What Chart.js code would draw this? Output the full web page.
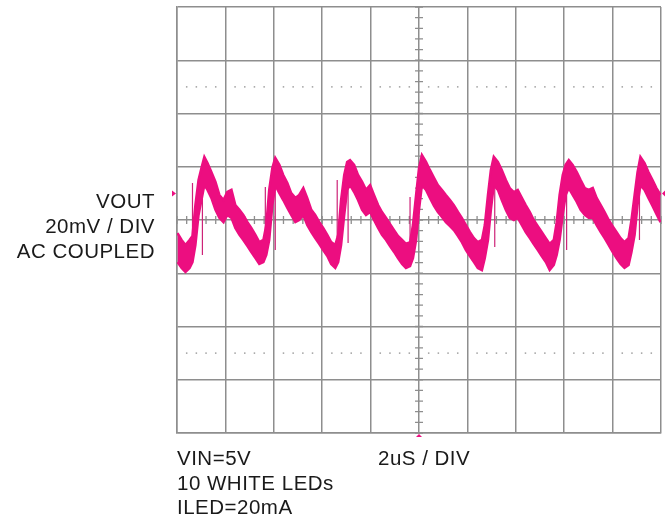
<!DOCTYPE html>
<html>
<head>
    <title>VOUT ripple</title>
    <script src="https://cdn.jsdelivr.net/npm/chart.js"></script>
    <style>
        body { margin: 0; background: #fff; }
        #wrap { position: relative; width: 666px; height: 518px; }
        .lbl { position: absolute; font-family: "Liberation Sans", Arial, sans-serif; font-size: 20.5px; color: #1a1a1a; letter-spacing: 0.5px; white-space: nowrap; }
    </style>
</head>
<body>
<div id="wrap">
    <canvas id="scopeChart" width="666" height="518"></canvas>
    <div class="lbl" style="right:511px; top:188px; line-height:25px; text-align:right;">VOUT<br>20mV / DIV<br>AC COUPLED</div>
    <div class="lbl" style="left:177px; top:446px; line-height:24.5px;">VIN=5V<br>10 WHITE LEDs<br>ILED=20mA</div>
    <div class="lbl" style="left:378px; top:446px; line-height:24.5px;">2uS / DIV</div>
</div>

<script>
    // time in us (2us/div), voltage in mV (20mV/div)
    var timeUs = [
        -9.98, -9.81, -9.65, -9.48, -9.36, -9.24, -9.11, -8.99, -8.87, -8.74, -8.58, -8.41, -8.25, -8.08, -7.92, -7.75, -7.59, -7.42, -7.26, -7.09, -6.93, -6.76, -6.60, -6.43,
        -6.31, -6.19, -6.06, -5.94, -5.77, -5.61, -5.44, -5.28, -5.11, -4.95, -4.78, -4.62, -4.45, -4.29, -4.12, -3.96, -3.79, -3.63, -3.46,
        -3.34, -3.22, -3.09, -2.97, -2.85, -2.68, -2.52, -2.35, -2.19, -2.02, -1.86, -1.69, -1.53, -1.36, -1.20, -1.03, -0.87, -0.70, -0.54, -0.37,
        -0.25, -0.12, 0, 0.12, 0.29, 0.45, 0.62, 0.78, 0.95, 1.11, 1.28, 1.44, 1.61, 1.77, 1.94, 2.10, 2.27, 2.43, 2.60,
        2.72, 2.85, 2.97, 3.09, 3.26, 3.42, 3.59, 3.75, 3.92, 4.08, 4.25, 4.41, 4.58, 4.74, 4.91, 5.07, 5.24, 5.40, 5.57,
        5.69, 5.81, 5.94, 6.06, 6.19, 6.35, 6.52, 6.68, 6.85, 7.01, 7.18, 7.34, 7.51, 7.67, 7.84, 8.00, 8.16, 8.33, 8.49, 8.66,
        8.78, 8.91, 9.03, 9.15, 9.32, 9.48, 9.65, 9.81, 9.98
    ];
    // top edge of the noisy trace
    var upperMv = [
        -4.9, -7.5, -9.4, -7.5, -6.0, 5.6, 15.0, 19.5, 23.7, 21.4, 18.0, 14.3, 9.4, 7.5, 10.5, 11.3, 5.6, 3.8, 1.9, -0.8, -3.0, -5.6, -8.3, -7.5,
        -1.9, 11.3, 19.5, 23.3, 20.7, 16.9, 13.9, 10.1, 8.3, 9.4, 12.0, 8.3, 3.8, 1.9, -0.8, -3.0, -5.6, -8.3, -9.4,
        -5.6, 7.5, 16.9, 21.8, 22.5, 20.7, 16.9, 14.3, 11.3, 13.1, 9.4, 5.6, 3.0, 0.8, -1.5, -3.8, -6.0, -7.5, -9.0, -8.3,
        -1.9, 9.4, 19.5, 24.4, 21.8, 18.8, 15.8, 13.1, 11.3, 9.4, 7.5, 5.6, 3.0, 0.8, -1.9, -4.5, -6.8, -8.3, -7.5,
        -1.9, 9.4, 18.8, 23.7, 21.8, 18.8, 15.0, 12.0, 10.5, 11.3, 8.3, 5.6, 3.0, 0, -2.3, -4.5, -6.8, -9.0, -7.5,
        -0.8, 9.4, 16.9, 20.7, 22.5, 20.7, 18.0, 15.0, 12.0, 11.3, 12.0, 8.3, 5.6, 3.0, 0, -2.3, -4.5, -6.8, -8.3, -6.8,
        0, 9.4, 18.0, 23.7, 21.4, 18.0, 15.0, 12.0, 9.4
    ];
    // bottom edge of the noisy trace
    var lowerMv = [
        -15.8, -18.0, -19.5, -18.0, -15.8, -9.4, 1.9, 7.5, 13.1, 11.3, 8.3, 3.8, 0.8, -0.8, 1.9, 0.8, -3.0, -5.6, -7.5, -9.8, -12.0, -14.3, -16.5, -15.8,
        -13.1, -7.5, 5.6, 13.1, 10.1, 7.5, 4.5, 1.9, -0.8, 0, 1.9, -1.9, -4.5, -6.8, -9.0, -11.3, -13.5, -16.5, -18.0,
        -15.8, -9.4, 1.9, 11.3, 13.1, 10.5, 7.5, 3.8, 1.9, 3.0, 0, -3.0, -5.6, -7.5, -9.8, -12.0, -14.3, -16.5, -18.0, -17.3,
        -14.3, -7.5, 3.8, 13.1, 11.3, 8.3, 5.3, 3.0, 1.1, -0.8, -2.3, -3.8, -6.0, -8.3, -11.3, -13.5, -15.8, -18.0, -18.8,
        -14.3, -7.5, 3.8, 13.1, 11.3, 7.5, 3.8, 0.8, 0, 0.8, -1.9, -4.5, -6.8, -9.0, -11.3, -13.5, -15.8, -18.8, -16.9,
        -13.1, -7.5, 1.9, 9.4, 12.0, 9.4, 6.8, 3.8, 1.9, 0.8, 0.8, -1.9, -4.5, -6.8, -9.4, -12.0, -14.3, -16.5, -18.0, -16.9,
        -12.0, -5.6, 5.6, 13.1, 11.3, 8.3, 5.3, 2.3, -0.8
    ];
    // thin switching spikes near each rising edge
    var spikeTimeUs = [-9.36, -8.95, -6.35, -5.94, -3.38, -2.93, -0.37, 3.13, 6.10, 9.11];
    var spikeTopMv = [13.9, 15.0, 12.4, 18.8, 15.0, 18.8, 8.6, 16.9, 15.0, 20.7];
    var spikeBottomMv = [-6.4, -13.1, -3.8, -11.3, -6.4, -8.6, -7.5, -10.1, -11.3, -7.5];

    var markerMv = 10;      // channel / trigger level arrows
    var dottedRowsMv = [50, -50];

    var traceColor = 'rgb(236, 14, 128)';
    var gridColor = '#8e8e8e';

    var upperPts = timeUs.map(function (t, i) { return { x: t, y: upperMv[i] }; });
    var lowerPts = timeUs.map(function (t, i) { return { x: t, y: lowerMv[i] }; });
    var spikePts = [];
    spikeTimeUs.forEach(function (t, i) {
        spikePts.push({ x: t, y: spikeTopMv[i] });
        spikePts.push({ x: t, y: spikeBottomMv[i] });
        spikePts.push({ x: t, y: null });
    });

    // centre crosshair ticks, dotted rows and the little level arrows
    var scopeDecor = {
        id: 'scopeDecor',
        beforeDatasetsDraw: function (chart) {
            var ctx = chart.ctx, x = chart.scales.x, y = chart.scales.y;
            var cx = x.getPixelForValue(0), cy = y.getPixelForValue(0);
            ctx.save();
            ctx.strokeStyle = gridColor;
            ctx.lineWidth = 1.3;
            ctx.beginPath();
            for (var v = -80; v <= 80; v += 4) {
                var py = y.getPixelForValue(v);
                ctx.moveTo(cx - 4, py); ctx.lineTo(cx + 4, py);
            }
            for (var t = -10; t <= 10.001; t += 0.4) {
                var px = x.getPixelForValue(t);
                ctx.moveTo(px, cy - 4); ctx.lineTo(px, cy + 4);
            }
            ctx.stroke();
            ctx.fillStyle = '#a0a0a0';
            dottedRowsMv.forEach(function (mv) {
                var py = y.getPixelForValue(mv);
                for (var k = 0; k < 50; k++) {
                    if (k % 5 === 0) continue;
                    var px = x.getPixelForValue(-10 + k * 0.4);
                    ctx.fillRect(px - 0.75, py - 0.75, 1.5, 1.5);
                }
            });
            ctx.restore();
        },
        afterDatasetsDraw: function (chart) {
            var ctx = chart.ctx, x = chart.scales.x, y = chart.scales.y, a = chart.chartArea;
            var my = y.getPixelForValue(markerMv), cx = x.getPixelForValue(0);
            ctx.save();
            ctx.fillStyle = traceColor;
            ctx.beginPath();
            ctx.moveTo(a.left - 5, my - 3); ctx.lineTo(a.left - 1, my); ctx.lineTo(a.left - 5, my + 3);
            ctx.closePath(); ctx.fill();
            ctx.beginPath();
            ctx.moveTo(cx - 3, a.bottom + 4); ctx.lineTo(cx, a.bottom + 1); ctx.lineTo(cx + 3, a.bottom + 4);
            ctx.closePath(); ctx.fill();
            ctx.beginPath();
            ctx.moveTo(a.right + 4, my - 3); ctx.lineTo(a.right + 1, my); ctx.lineTo(a.right + 4, my + 3);
            ctx.closePath(); ctx.fill();
            ctx.restore();
        }
    };

    var ctx = document.getElementById('scopeChart').getContext('2d');
    var scopeChart = new Chart(ctx, {
        type: 'line',
        data: {
            datasets: [{
                label: 'VOUT upper',
                data: upperPts,
                borderColor: traceColor,
                backgroundColor: traceColor,
                borderWidth: 2.5,
                pointRadius: 0,
                tension: 0,
                fill: '+1'
            }, {
                label: 'VOUT lower',
                data: lowerPts,
                borderColor: traceColor,
                borderWidth: 2.5,
                pointRadius: 0,
                tension: 0,
                fill: false
            }, {
                label: 'spikes',
                data: spikePts,
                borderColor: 'rgb(205, 35, 120)',
                borderWidth: 1.2,
                pointRadius: 0,
                spanGaps: false,
                fill: false
            }]
        },
        options: {
            responsive: false,
            animation: false,
            layout: { padding: { left: 177, right: 5, top: 7, bottom: 85 } },
            plugins: { legend: { display: false }, tooltip: { enabled: false } },
            scales: {
                x: {
                    type: 'linear',
                    min: -10,
                    max: 10,
                    afterFit: function (s) { s.height = 0; },
                    ticks: { display: false, stepSize: 2 },
                    grid: { color: gridColor, lineWidth: 1.5, drawTicks: false },
                    border: { display: true, color: gridColor, width: 1.5 }
                },
                y: {
                    min: -80,
                    max: 80,
                    afterFit: function (s) { s.width = 0; },
                    ticks: { display: false, stepSize: 20 },
                    grid: { color: gridColor, lineWidth: 1.5, drawTicks: false },
                    border: { display: true, color: gridColor, width: 1.5 }
                }
            }
        },
        plugins: [scopeDecor]
    });
</script>
</body>
</html>
